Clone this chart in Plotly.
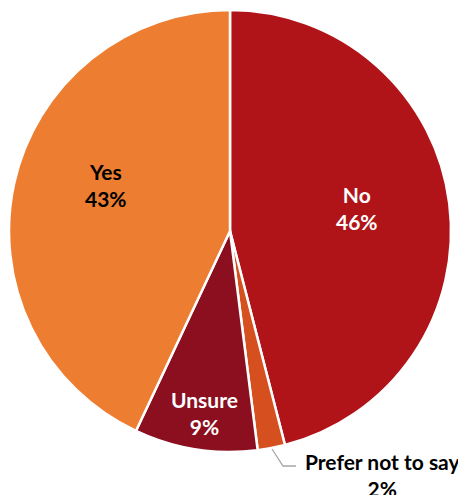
import plotly.graph_objects as go

labels = ["No", "Prefer not to say", "Unsure", "Yes"]
values = [46, 2, 9, 43]
colors = ["#B01419", "#D5501E", "#8B0F1F", "#ED7D31"]
text_colors = ["white", "black", "white", "black"]

W, H = 466, 495
OFF = 8  # page body margin

def px(x, y):
    return (x - OFF) / W, 1 - (y - OFF) / H

x0, y0 = px(8, 10)
x1, y1 = px(452, 452)
fig = go.Figure(go.Pie(
    labels=labels, values=values, sort=False, direction="clockwise", rotation=0,
    marker=dict(colors=colors, line=dict(color="white", width=2.5)),
    textinfo="none", hoverinfo="label+percent", showlegend=False,
    domain=dict(x=[max(x0, 0), x1], y=[y1, y0]),
))

FAM = "Lato, Open Sans, sans-serif"
pos = {"No": (357, 208), "Yes": (106, 185), "Unsure": (204, 413), "Prefer not to say": (382, 475)}
for lab, val, tc in zip(labels, values, text_colors):
    x, y = px(*pos[lab])
    fig.add_annotation(x=x, y=y, xref="paper", yref="paper", showarrow=False,
                       xanchor="center", yanchor="middle",
                       text=f"<b>{lab}<br>{val}%</b>",
                       font=dict(family=FAM, size=21, color=tc), align="center")

# leader line for "Prefer not to say"
pts = [px(272, 449), px(283, 466), px(296, 466)]
fig.add_shape(type="path", xref="paper", yref="paper",
              path="M {} {} L {} {} L {} {}".format(*[c for p in pts for c in p]),
              line=dict(color="#A6A6A6", width=1.3))

fig.update_layout(width=W, height=H, margin=dict(l=0, r=0, t=0, b=0),
                  paper_bgcolor="white", plot_bgcolor="white")
fig.write_html("out.html")
